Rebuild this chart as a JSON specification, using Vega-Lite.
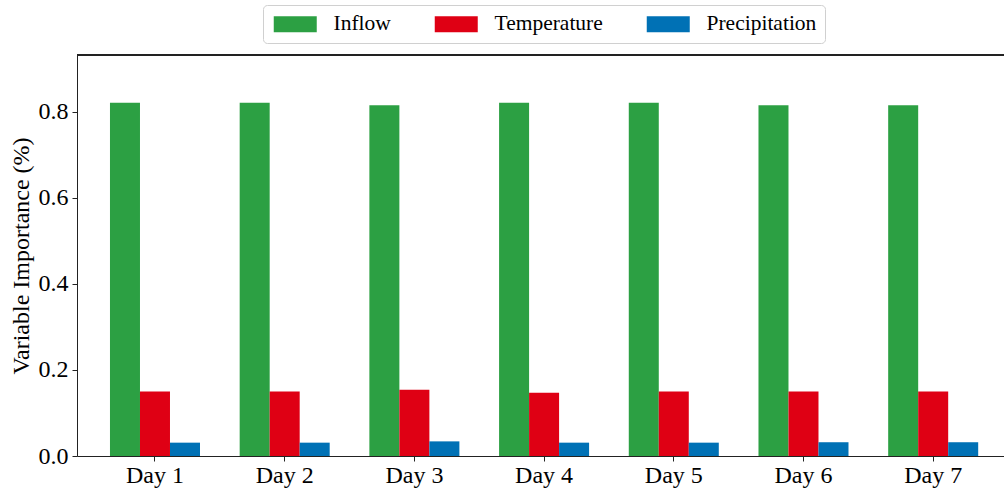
{
  "$schema": "https://vega.github.io/schema/vega-lite/v6.json",
  "autosize": "none",
  "padding": {"left": 77, "top": 55, "right": 0, "bottom": 34},
  "width": 927,
  "height": 401,
  "background": "white",
  "config": {
    "view": {"stroke": null},
    "font": "Liberation Serif",
    "axis": {
      "labelFont": "Liberation Serif",
      "labelFontSize": 24,
      "labelColor": "black",
      "titleFont": "Liberation Serif",
      "titleFontSize": 24,
      "titleFontWeight": "normal",
      "titleColor": "black",
      "domainColor": "#222",
      "domainWidth": 1,
      "tickColor": "#222",
      "tickSize": 5,
      "grid": false
    },
    "legend": {
      "labelFont": "Liberation Serif",
      "labelFontSize": 21.5,
      "labelColor": "black"
    }
  },
  "data": {
    "values": [
      {"Day": "Day 1", "Variable": "Inflow", "Value": 0.821},
      {"Day": "Day 1", "Variable": "Temperature", "Value": 0.150},
      {"Day": "Day 1", "Variable": "Precipitation", "Value": 0.031},
      {"Day": "Day 2", "Variable": "Inflow", "Value": 0.821},
      {"Day": "Day 2", "Variable": "Temperature", "Value": 0.150},
      {"Day": "Day 2", "Variable": "Precipitation", "Value": 0.031},
      {"Day": "Day 3", "Variable": "Inflow", "Value": 0.815},
      {"Day": "Day 3", "Variable": "Temperature", "Value": 0.154},
      {"Day": "Day 3", "Variable": "Precipitation", "Value": 0.034},
      {"Day": "Day 4", "Variable": "Inflow", "Value": 0.821},
      {"Day": "Day 4", "Variable": "Temperature", "Value": 0.147},
      {"Day": "Day 4", "Variable": "Precipitation", "Value": 0.031},
      {"Day": "Day 5", "Variable": "Inflow", "Value": 0.821},
      {"Day": "Day 5", "Variable": "Temperature", "Value": 0.150},
      {"Day": "Day 5", "Variable": "Precipitation", "Value": 0.031},
      {"Day": "Day 6", "Variable": "Inflow", "Value": 0.815},
      {"Day": "Day 6", "Variable": "Temperature", "Value": 0.150},
      {"Day": "Day 6", "Variable": "Precipitation", "Value": 0.032},
      {"Day": "Day 7", "Variable": "Inflow", "Value": 0.815},
      {"Day": "Day 7", "Variable": "Temperature", "Value": 0.150},
      {"Day": "Day 7", "Variable": "Precipitation", "Value": 0.032}
    ]
  },
  "layer": [
    {
      "mark": {"type": "bar"},
      "encoding": {
        "x": {
          "field": "Day",
          "type": "nominal",
          "scale": {"paddingInner": 0.306, "paddingOuter": 0.2266, "align": 0.561},
          "axis": {"title": null, "labelAngle": 0, "labelPadding": 2}
        },
        "xOffset": {
          "field": "Variable",
          "type": "nominal",
          "sort": ["Inflow", "Temperature", "Precipitation"],
          "scale": {"paddingInner": 0, "paddingOuter": 0}
        },
        "y": {
          "field": "Value",
          "type": "quantitative",
          "scale": {"domain": [0, 0.932], "nice": false},
          "axis": {
            "title": "Variable Importance (%)",
            "values": [0, 0.2, 0.4, 0.6, 0.8],
            "format": ".1f",
            "labelPadding": 4,
            "titlePadding": 5
          }
        },
        "color": {
          "field": "Variable",
          "type": "nominal",
          "sort": ["Inflow", "Temperature", "Precipitation"],
          "scale": {
            "domain": ["Inflow", "Temperature", "Precipitation"],
            "range": ["#2ca043", "#df0014", "#0071b5"]
          },
          "legend": {
            "title": null,
            "orient": "none",
            "legendX": 186,
            "legendY": -50,
            "direction": "horizontal",
            "columns": 3,
            "columnPadding": 41,
            "labelOffset": 41,
            "symbolType": "M-1,-1H4.375V1H-1Z",
            "symbolSize": 256,
            "symbolStrokeWidth": 0,
            "symbolOpacity": 1,
            "padding": 8,
            "strokeColor": "#d0d0d0",
            "fillColor": "white",
            "cornerRadius": 4
          }
        }
      }
    },
    {
      "mark": {"type": "rule", "color": "#222", "strokeWidth": 1},
      "encoding": {"y": {"datum": 0.932}}
    }
  ]
}
